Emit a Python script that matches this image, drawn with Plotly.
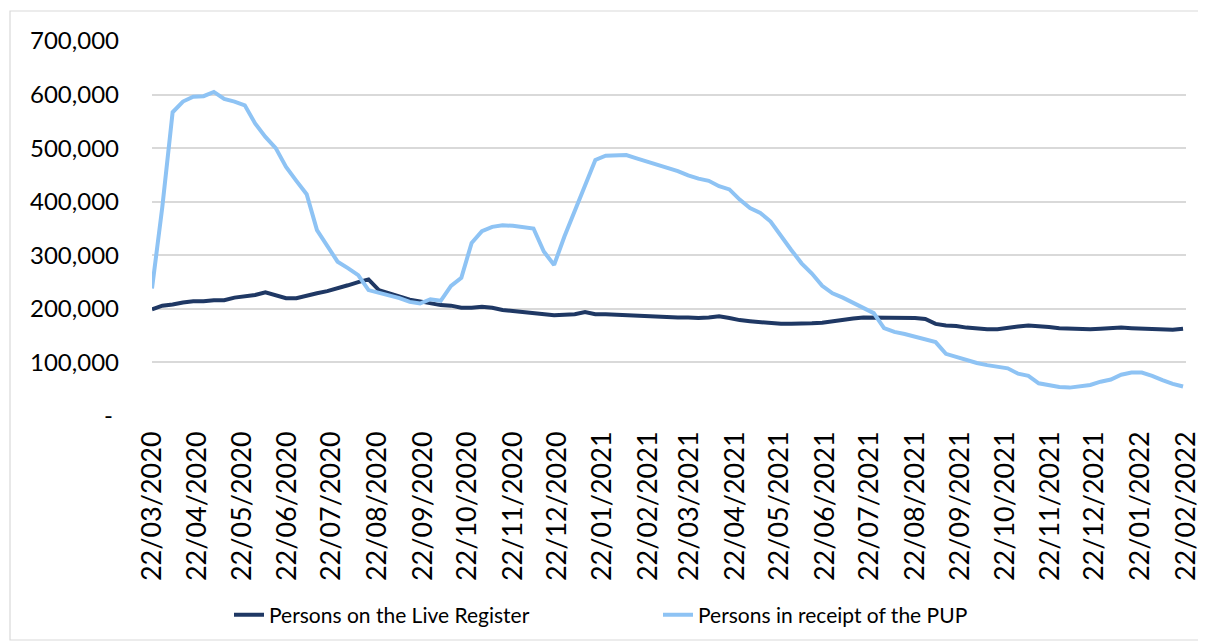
import pandas as pd
import plotly.graph_objects as go

# Weekly observation dates (one point per week)
dates = pd.date_range("2020-03-22", periods=101, freq="7D")

live_register = [
    199000, 206000, 208000, 212000, 214000, 214000, 216000, 216000, 221000, 223000,
    226000, 231000, 225000, 220000, 220000, 225000, 229000, 233000, 238000, 244000,
    250000, 255000, 235000, 229000, 223000, 217000, 214000, 211000, 207000, 206000,
    202000, 202000, 204000, 202000, 198000, 196000, 194000, 192000, 190000, 188000,
    189000, 190000, 194000, 190000, 190000, 189000, 188000, 187000, 187000, 186000,
    185000, 184000, 184000, 183000, 184000, 186000, 183000, 179000, 177000, 175000,
    173000, 172000, 172000, 172000, 173000, 174000, 177000, 179000, 182000, 184000,
    184000, 184000, 184000, 184000, 183000, 181000, 172000, 169000, 168000, 165000,
    163000, 162000, 162000, 165000, 167000, 169000, 168000, 166000, 164000, 163000,
    162000, 162000, 163000, 164000, 165000, 164000, 163000, 162000, 162000, 161000,
    163000,
]

pup = [
    238000, 390000, 567000, 587000, 596000, 597000, 605000, 592000, 587000, 580000,
    546000, 521000, 500000, 465000, 439000, 414000, 347000, 318000, 288000, 276000,
    263000, 235000, 230000, 226000, 220000, 213000, 210000, 218000, 215000, 243000,
    258000, 323000, 345000, 353000, 356000, 355000, 353000, 350000, 307000, 282000,
    335000, 384000, 428000, 478000, 486000, 487000, 487000, 481000, 475000, 470000,
    464000, 457000, 449000, 443000, 439000, 429000, 423000, 404000, 388000, 379000,
    363000, 335000, 310000, 285000, 266000, 243000, 229000, 221000, 212000, 202000,
    192000, 164000, 157000, 153000, 148000, 142000, 138000, 116000, 110000, 104000,
    99000, 95000, 92000, 89000, 79000, 75000, 61000, 57000, 54000, 53000,
    55000, 58000, 64000, 68000, 77000, 81000, 81000, 75000, 67000, 60000,
    55000,
]

x_tick_dates = [
    "2020-03-22", "2020-04-22", "2020-05-22", "2020-06-22", "2020-07-22", "2020-08-22",
    "2020-09-22", "2020-10-22", "2020-11-22", "2020-12-22", "2021-01-22", "2021-02-22",
    "2021-03-22", "2021-04-22", "2021-05-22", "2021-06-22", "2021-07-22", "2021-08-22",
    "2021-09-22", "2021-10-22", "2021-11-22", "2021-12-22", "2022-01-22", "2022-02-22",
]
x_tick_labels = [
    "22/03/2020", "22/04/2020", "22/05/2020", "22/06/2020", "22/07/2020", "22/08/2020",
    "22/09/2020", "22/10/2020", "22/11/2020", "22/12/2020", "22/01/2021", "22/02/2021",
    "22/03/2021", "22/04/2021", "22/05/2021", "22/06/2021", "22/07/2021", "22/08/2021",
    "22/09/2021", "22/10/2021", "22/11/2021", "22/12/2021", "22/01/2022", "22/02/2022",
]
y_tick_vals = [0, 100000, 200000, 300000, 400000, 500000, 600000, 700000]
y_tick_labels = ["-\u00a0", "100,000", "200,000", "300,000", "400,000",
                 "500,000", "600,000", "700,000"]

NAVY = "#1F3864"
LIGHT = "#8EC3F4"
FONT = "Lato"

fig = go.Figure()
fig.add_trace(go.Scatter(x=dates, y=live_register, mode="lines",
                         name="Persons on the Live Register",
                         line=dict(color=NAVY, width=4)))
fig.add_trace(go.Scatter(x=dates, y=pup, mode="lines",
                         name="Persons in receipt of the PUP",
                         line=dict(color=LIGHT, width=4)))

# The page places the figure 8px in from the top-left corner.
OFF = 8
SCREEN_W, SCREEN_H = 1206, 642
W, H = SCREEN_W - OFF, SCREEN_H - OFF
PLOT_L, PLOT_R, PLOT_T, PLOT_B = 152, 1186, 41, 416   # screen px
L, R, T, B = PLOT_L - OFF, SCREEN_W - PLOT_R, PLOT_T - OFF, SCREEN_H - PLOT_B
pw, ph = PLOT_R - PLOT_L, PLOT_B - PLOT_T

def px_x(p):
    return (p - PLOT_L) / pw

def px_y(p):
    return (PLOT_B - p) / ph

fig.add_shape(type="rect", xref="paper", yref="paper",
              x0=px_x(10), x1=px_x(1204), y0=px_y(640), y1=px_y(11),
              line=dict(color="#D9D9D9", width=1.2), fillcolor="rgba(0,0,0,0)",
              layer="below")

fig.update_layout(
    width=W, height=H,
    margin=dict(l=L, r=R, t=T, b=B, autoexpand=False),
    paper_bgcolor="white", plot_bgcolor="white",
    font=dict(family=FONT, color="black"),
    showlegend=True,
    legend=dict(orientation="h", xref="container", x=(229 - OFF) / W, xanchor="left",
                yref="container", y=(H - (615 - OFF)) / H, yanchor="middle",
                font=dict(size=21, family=FONT), entrywidth=384,
                bgcolor="rgba(0,0,0,0)"),
    xaxis=dict(
        range=["2020-03-22", "2022-02-22"],
        tickvals=x_tick_dates, ticktext=x_tick_labels,
        tickangle=-90, tickfont=dict(size=27, family=FONT),
        showgrid=False, zeroline=False, showline=False,
        ticks="", ticklabelstandoff=9, automargin=False,
    ),
    yaxis=dict(
        range=[0, 700000],
        tickvals=y_tick_vals, ticktext=y_tick_labels,
        tickfont=dict(size=24, family=FONT),
        showgrid=True, gridcolor="#D9D9D9", gridwidth=1.5,
        zeroline=False, showline=False, ticks="", ticklabelstandoff=32,
        automargin=False,
    ),
)

fig.write_html("out.html")
